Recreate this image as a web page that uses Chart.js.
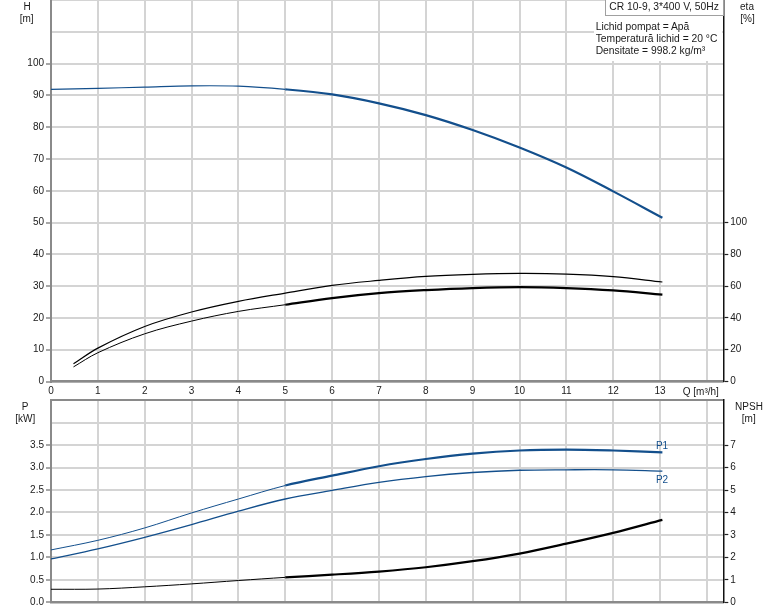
<!DOCTYPE html>
<html><head><meta charset="utf-8">
<script src="https://cdn.jsdelivr.net/npm/chart.js@4.4.1/dist/chart.umd.min.js"></script>
<style>
html,body{margin:0;padding:0;background:#fff;width:774px;height:611px;overflow:hidden;position:relative;font-family:"Liberation Sans",Arial,sans-serif;}
canvas{position:absolute;left:0;}
#cTop{top:-10px;}
#cBot{top:390px;}
.lbl{position:absolute;font-size:10px;line-height:12px;color:#1a1a1a;white-space:nowrap;text-align:center;z-index:5}
.info{position:absolute;font-size:10.3px;line-height:12px;color:#1a1a1a;white-space:nowrap;z-index:6}
</style></head><body>
<canvas id="cTop" width="774" height="408"></canvas>
<canvas id="cBot" width="774" height="221"></canvas>

<div class="lbl" style="left:17px;top:0.5px;width:20px">H</div>
<div class="lbl" style="left:16.7px;top:13px;width:20px">[m]</div>
<div class="lbl" style="left:737px;top:1px;width:20px">eta</div>
<div class="lbl" style="left:737.5px;top:13px;width:20px">[%]</div>
<div class="lbl" style="left:15px;top:400.7px;width:20px">P</div>
<div class="lbl" style="left:10.3px;top:413px;width:30px">[kW]</div>
<div class="lbl" style="left:729px;top:400.7px;width:40px">NPSH</div>
<div class="lbl" style="left:738.8px;top:413px;width:20px">[m]</div>
<div class="lbl" style="left:670.8px;top:386px;width:60px">Q [m³/h]</div>
<div class="lbl" style="left:652px;top:440px;width:20px;color:#134f8c">P1</div>
<div class="lbl" style="left:652px;top:474px;width:20px;color:#134f8c">P2</div>

<div style="position:absolute;left:594px;top:16px;width:128px;height:45px;background:#fff;z-index:4"></div>
<div class="info" style="left:595.7px;top:20.7px">Lichid pompat = Apă</div>
<div class="info" style="left:595.7px;top:32.7px">Temperatură lichid = 20 °C</div>
<div class="info" style="left:595.7px;top:45px">Densitate = 998.2 kg/m³</div>
<div style="position:absolute;left:605px;top:-2px;width:117px;height:16px;background:#fff;border:1.5px solid #a0a0a0;z-index:6"></div>
<div class="info" style="left:609.3px;top:1.3px;z-index:7">CR 10-9, 3*400 V, 50Hz</div>

<script>
// ---- data ----
const Q      = [0, 1, 2, 3, 4, 5, 6, 7, 8, 9, 10, 11, 12, 13.05];
const H      = [91.9, 92.2, 92.6, 93.0, 92.9, 91.9, 90.3, 87.5, 83.8, 79.1, 73.6, 67.3, 59.8, 51.5];
const QEta   = [0.48, 1, 2, 3, 4, 5, 6, 7, 8, 9, 10, 11, 12, 13.05];
const etaPump  = [11.1, 21.0, 34.6, 43.7, 50.4, 55.6, 60.5, 63.6, 66.1, 67.4, 68.0, 67.6, 66.0, 62.6];
const etaTotal = [9.2, 18.1, 30.0, 38.0, 44.1, 48.3, 52.5, 55.6, 57.5, 58.8, 59.4, 58.8, 57.3, 54.6];
const P1   = [1.166, 1.38, 1.656, 1.99, 2.30, 2.60, 2.82, 3.03, 3.19, 3.31, 3.38, 3.40, 3.38, 3.34];
const P2   = [0.966, 1.19, 1.447, 1.73, 2.03, 2.30, 2.49, 2.67, 2.80, 2.89, 2.94, 2.95, 2.95, 2.92];
const NPSH = [0.58, 0.59, 0.69, 0.82, 0.97, 1.11, 1.23, 1.37, 1.56, 1.83, 2.17, 2.61, 3.09, 3.67];
const hTicksMax = 100, etaTicksMax = 100, qTicksMax = 13, pTicksMax = 3.5, npshTicksMax = 7;

const BLUE = '#134f8c', BLACK = '#000000';
const GRID = '#d4d4d4', AXIS = '#8a8a8a';
Chart.defaults.font.family = '"Liberation Sans", Arial, sans-serif';
Chart.defaults.font.size = 10;
Chart.defaults.color = '#1a1a1a';

const pts = (xs, ys) => xs.map((x, i) => ({x, y: ys[i]}));
const split = (thin, thick, fromThick) => ctx => (fromThick && ctx.p0.parsed.x >= 4.99) ? thick : thin;

function line(label, xs, ys, color, axis, thin, thick, fromThick) {
  return {
    label, data: pts(xs, ys), yAxisID: axis, borderColor: color, backgroundColor: color,
    pointRadius: 0, fill: false, tension: 0.35, borderWidth: thin,
    segment: { borderWidth: split(thin, thick, fromThick) }
  };
}

const common = {
  responsive: false, animation: false, events: [],
  plugins: { legend: { display: false }, tooltip: { enabled: false } }
};

new Chart(document.getElementById('cTop'), {
  type: 'line',
  data: { datasets: [
    line('H', Q, H, BLUE, 'yH', 1.2, 2.2, true),
    line('eta', QEta, etaPump, BLACK, 'yEta', 1.2, 1.2, false),
    line('eta total', QEta, etaTotal, BLACK, 'yEta', 1.0, 2.2, true)
  ]},
  options: Object.assign({}, common, {
    layout: { padding: { top: 10, left: 0, right: 0, bottom: 0 } },
    scales: {
      x: {
        type: 'linear', min: 0, max: 14.35,
        afterFit: s => { s.height = 16.5; },
        ticks: { stepSize: 1, includeBounds: false, padding: 4, maxRotation: 0,
          callback: v => v <= qTicksMax ? String(v) : '' },
        grid: { color: GRID, lineWidth: 2, drawTicks: false },
        border: { color: AXIS, width: 2.5 }
      },
      yH: {
        type: 'linear', position: 'left', min: 0, max: 120,
        afterFit: s => { s.width = 51; },
        ticks: { stepSize: 10, includeBounds: false, padding: 2,
          callback: v => v <= hTicksMax ? String(v) : '' },
        grid: { color: GRID, lineWidth: 2, tickLength: 5,
          tickColor: c => c.tick && c.tick.value <= hTicksMax ? AXIS : 'rgba(0,0,0,0)', tickWidth: 1.5 },
        border: { color: AXIS, width: 2 }
      },
      yEta: {
        type: 'linear', position: 'right', min: 0, max: 240,
        afterFit: s => { s.width = 50.7; },
        ticks: { stepSize: 20, includeBounds: false, padding: 2,
          callback: v => v <= etaTicksMax ? String(v) : '' },
        grid: { drawOnChartArea: false, tickLength: 5,
          tickColor: c => c.tick && c.tick.value <= etaTicksMax ? '#222' : 'rgba(0,0,0,0)', tickWidth: 1.2 },
        border: { color: '#111', width: 1.5 }
      }
    }
  })
});

new Chart(document.getElementById('cBot'), {
  type: 'line',
  data: { datasets: [
    line('P1', Q, P1, BLUE, 'yP', 1.0, 2.2, true),
    line('P2', Q, P2, BLUE, 'yP', 1.3, 1.3, false),
    line('NPSH', Q, NPSH, BLACK, 'yN', 1.0, 2.2, true)
  ]},
  options: Object.assign({}, common, {
    layout: { padding: { top: 10.2, left: 0, right: 0, bottom: 0 } },
    scales: {
      x: {
        type: 'linear', min: 0, max: 14.35,
        afterFit: s => { s.height = 8.7; },
        ticks: { stepSize: 1, includeBounds: false, display: false },
        grid: { color: GRID, lineWidth: 2, drawTicks: false },
        border: { color: AXIS, width: 2.5 }
      },
      yP: {
        type: 'linear', position: 'left', min: 0, max: 4.5,
        afterFit: s => { s.width = 51; },
        ticks: { stepSize: 0.5, includeBounds: false, padding: 2,
          callback: v => v <= pTicksMax + 1e-9 ? v.toFixed(1) : '' },
        grid: { color: c => c.tick && Math.abs(c.tick.value - 4.5) < 1e-6 ? AXIS : GRID, lineWidth: 2, tickLength: 5,
          tickColor: c => c.tick && c.tick.value <= pTicksMax + 1e-9 ? AXIS : 'rgba(0,0,0,0)', tickWidth: 1.5 },
        border: { color: AXIS, width: 2 }
      },
      yN: {
        type: 'linear', position: 'right', min: 0, max: 9,
        afterFit: s => { s.width = 50.7; },
        ticks: { stepSize: 1, includeBounds: false, padding: 2,
          callback: v => v <= npshTicksMax ? String(v) : '' },
        grid: { drawOnChartArea: false, tickLength: 5,
          tickColor: c => c.tick && c.tick.value <= npshTicksMax ? '#222' : 'rgba(0,0,0,0)', tickWidth: 1.2 },
        border: { color: '#111', width: 1.5 }
      }
    }
  })
});
</script>
</body></html>
